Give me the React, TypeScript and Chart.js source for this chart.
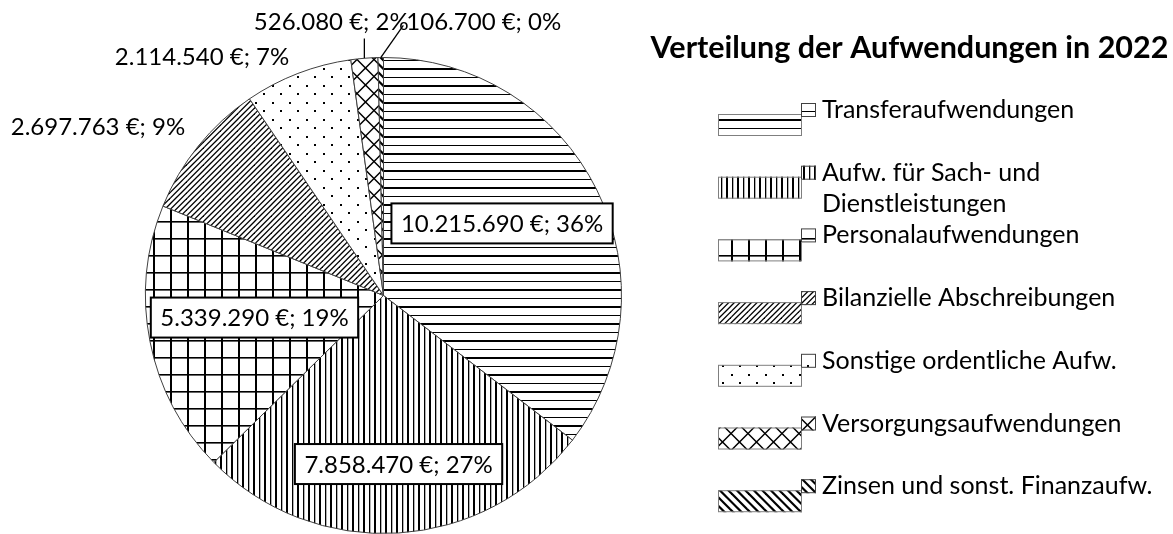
import React, { useEffect, useRef } from "react";
import { Chart, registerables } from "chart.js";

Chart.register(...registerables);

const chartTitle = "Verteilung der Aufwendungen in 2022";
const categories = [
  "Transferaufwendungen",
  "Aufw. für Sach- und Dienstleistungen",
  "Personalaufwendungen",
  "Bilanzielle Abschreibungen",
  "Sonstige ordentliche Aufw.",
  "Versorgungsaufwendungen",
  "Zinsen und sonst. Finanzaufw.",
];
const legendLines = [
  ["Transferaufwendungen"],
  ["Aufw. für Sach- und", "Dienstleistungen"],
  ["Personalaufwendungen"],
  ["Bilanzielle Abschreibungen"],
  ["Sonstige ordentliche Aufw."],
  ["Versorgungsaufwendungen"],
  ["Zinsen und sonst. Finanzaufw."],
];
const amounts = [10215690, 7858470, 5339290, 2697763, 2114540, 526080, 106700];
const percentTexts = ["36%", "27%", "19%", "9%", "7%", "2%", "0%"];
const patternKinds = ["hlines", "vlines", "grid", "updiag", "dots", "diamond", "downdiag"];

// label placement: polar position relative to the pie centre (radius units, degrees)
const labelRadius = [0.583, 0.711, 0.55, 1.394, 1.261, 1.172, 1.226];
const labelAngle = [-31.3, 84.9, 170.3, -149.4, -127.2, -100.8, -69.9];
const labelBoxed = [true, true, true, false, false, false, false];
const labelLeader = ["", "", "", "", "", "vertical", "left"];

const FONT = "Lato, 'Open Sans', sans-serif";
const LABEL_SIZE = 24;
const LEGEND_SIZE = 25;
const TITLE_SIZE = 30.5;

function fmtAmount(v: number): string {
  return String(v).replace(/\B(?=(\d{3})+(?!\d))/g, ".") + " €";
}

function tile(w: number, h: number, draw: (g: CanvasRenderingContext2D, w: number, h: number) => void) {
  const c = document.createElement("canvas");
  c.width = w;
  c.height = h;
  const g = c.getContext("2d") as CanvasRenderingContext2D;
  g.fillStyle = "#fff";
  g.fillRect(0, 0, w, h);
  g.fillStyle = "#000";
  g.strokeStyle = "#000";
  draw(g, w, h);
  return c;
}

function makePattern(ctx: CanvasRenderingContext2D, kind: string): CanvasPattern {
  let c: HTMLCanvasElement;
  switch (kind) {
    case "hlines":
      c = tile(8, 17, (g, w) => {
        g.fillRect(0, 0, w, 2);
        g.fillRect(0, 9, w, 1);
      });
      break;
    case "vlines":
      c = tile(11, 8, (g, w, h) => {
        g.fillRect(0, 0, 2, h);
        g.fillRect(6, 0, 1.3, h);
      });
      break;
    case "grid":
      c = tile(17, 17, (g, w, h) => {
        g.fillRect(0, 0, 2, h);
        g.fillRect(0, 0, w, 1.6);
      });
      break;
    case "updiag":
      c = tile(17, 17, (g) => {
        g.lineWidth = 1.3;
        for (let k = -2; k <= 8; k++) {
          const cc = (k * 17) / 3;
          g.beginPath();
          g.moveTo(cc + 3, -3);
          g.lineTo(cc - 20, 20);
          g.stroke();
        }
      });
      break;
    case "downdiag":
      c = tile(17, 17, (g) => {
        g.lineWidth = 2.2;
        for (let k = -4; k <= 4; k++) {
          const cc = k * 8.5;
          g.beginPath();
          g.moveTo(cc - 3, -3);
          g.lineTo(cc + 20, 20);
          g.stroke();
        }
      });
      break;
    case "dots":
      c = tile(17, 17, (g) => {
        g.fillRect(0, 0, 2, 2);
        g.fillRect(8, 8, 2, 2);
      });
      break;
    case "diamond":
    default:
      c = tile(17, 17, (g) => {
        g.lineWidth = 1.5;
        g.beginPath();
        g.moveTo(0, 8.5);
        g.lineTo(8.5, 0);
        g.lineTo(17, 8.5);
        g.lineTo(8.5, 17);
        g.closePath();
        g.stroke();
      });
      break;
  }
  return ctx.createPattern(c, "repeat") as CanvasPattern;
}

export default function App() {
  const ref = useRef<HTMLCanvasElement | null>(null);

  useEffect(() => {
    const canvas = ref.current;
    if (!canvas) return;
    const ctx0 = canvas.getContext("2d") as CanvasRenderingContext2D;
    const patterns = patternKinds.map((k) => makePattern(ctx0, k));

    const labelPlugin = {
      id: "sliceLabels",
      afterDatasetsDraw(chart: any) {
        const ctx: CanvasRenderingContext2D = chart.ctx;
        const meta = chart.getDatasetMeta(0);
        ctx.save();
        ctx.font = `${LABEL_SIZE}px ${FONT}`;
        meta.data.forEach((arc: any, i: number) => {
          const p = arc.getProps(["x", "y", "startAngle", "endAngle", "outerRadius"], true);
          const mid = (p.startAngle + p.endAngle) / 2;
          const a = (labelAngle[i] * Math.PI) / 180;
          const cx = p.x + Math.cos(a) * labelRadius[i] * p.outerRadius;
          const cy = p.y + Math.sin(a) * labelRadius[i] * p.outerRadius;
          const text = fmtAmount(amounts[i]) + "; " + percentTexts[i];
          const w = ctx.measureText(text).width;
          if (labelBoxed[i]) {
            const bw = w + 19;
            const bh = 40;
            ctx.fillStyle = "#fff";
            ctx.fillRect(cx - bw / 2, cy - bh / 2, bw, bh);
            ctx.lineWidth = 2;
            ctx.strokeStyle = "#000";
            ctx.strokeRect(cx - bw / 2, cy - bh / 2, bw, bh);
          }
          ctx.fillStyle = "#000";
          ctx.textAlign = "center";
          ctx.textBaseline = "alphabetic";
          ctx.fillText(text, cx, cy + 8.5);
          if (labelLeader[i]) {
            const ex = p.x + Math.cos(mid) * p.outerRadius;
            const ey = p.y + Math.sin(mid) * p.outerRadius;
            ctx.beginPath();
            ctx.lineWidth = 1.3;
            ctx.strokeStyle = "#000";
            ctx.moveTo(ex, ey);
            if (labelLeader[i] === "vertical") {
              ctx.lineTo(ex, cy + 17);
            } else {
              ctx.lineTo(cx - w / 2 - 3, cy + 4);
            }
            ctx.stroke();
          }
        });
        ctx.restore();
      },
    };

    const legendPlugin = {
      id: "sideLegend",
      afterDraw(chart: any) {
        const ctx: CanvasRenderingContext2D = chart.ctx;
        ctx.save();
        ctx.fillStyle = "#000";
        ctx.textAlign = "center";
        ctx.textBaseline = "alphabetic";
        ctx.font = `bold ${TITLE_SIZE}px ${FONT}`;
        ctx.fillText(chartTitle, 909.5, 58);
        ctx.font = `${LEGEND_SIZE}px ${FONT}`;
        ctx.textAlign = "left";
        legendLines.forEach((lines, i) => {
          const base = 118 + i * 62.7;
          // large swatch
          ctx.fillStyle = patterns[i];
          ctx.fillRect(718, base - 4, 84, 22);
          ctx.lineWidth = 1;
          ctx.strokeStyle = "#7f7f7f";
          ctx.strokeRect(718.5, base - 3.5, 83, 21);
          // small box
          ctx.fillStyle = patterns[i];
          ctx.fillRect(801, base - 15, 15, 14);
          ctx.strokeStyle = "#404040";
          ctx.strokeRect(801.5, base - 14.5, 14, 13);
          ctx.fillStyle = "#000";
          lines.forEach((ln, j) => {
            ctx.fillText(ln, 822, base + j * 31);
          });
        });
        ctx.restore();
      },
    };

    const chart = new Chart(canvas, {
      type: "pie",
      data: {
        labels: categories,
        datasets: [
          {
            data: amounts,
            backgroundColor: patterns as any,
            borderColor: "#404040",
            borderWidth: 1,
          },
        ],
      },
      options: {
        responsive: false,
        animation: false,
        events: [],
        layout: { padding: { left: 145, top: 57, right: 551, bottom: 0 } },
        plugins: {
          legend: { display: false },
          title: { display: false },
          tooltip: { enabled: false },
        },
      },
      plugins: [labelPlugin, legendPlugin],
    });
    return () => chart.destroy();
  }, []);

  return (
    <canvas
      ref={ref}
      width={1173}
      height={534}
      style={{ position: "absolute", left: 0, top: 0, width: 1173, height: 534, background: "#fff" }}
    />
  );
}
